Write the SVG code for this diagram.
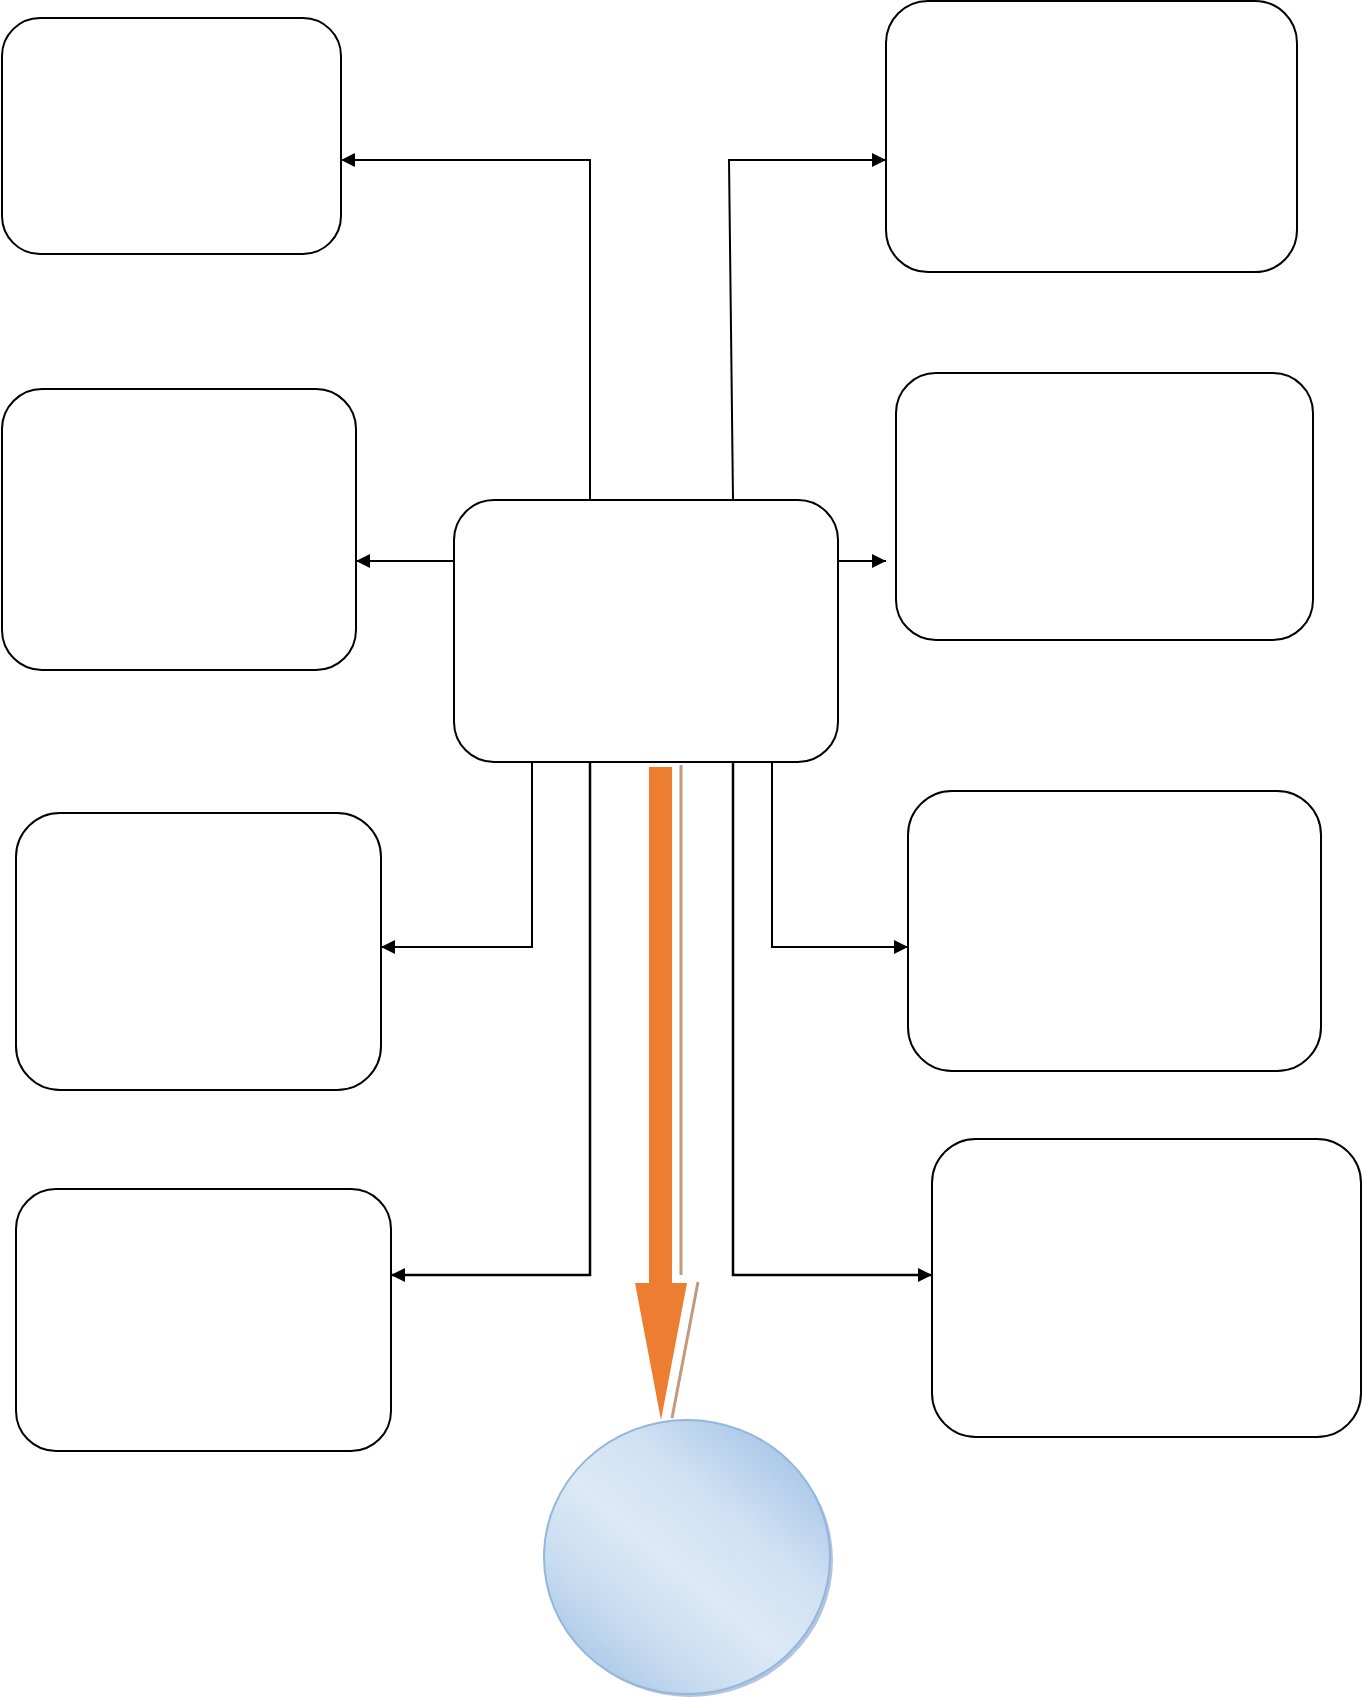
<svg xmlns="http://www.w3.org/2000/svg" width="1362" height="1697" viewBox="0 0 1362 1697">
<style>
.box{fill:#fff;stroke:#000;stroke-width:2}
.conn{fill:none;stroke:#000;stroke-width:2}
.thick{fill:none;stroke:#000;stroke-width:2.5}
.tan{stroke:#c49a7a;stroke-width:3}
</style>
<defs>
<marker id="ah" viewBox="0 0 14 14" refX="14" refY="7" markerWidth="14" markerHeight="14" markerUnits="userSpaceOnUse" orient="auto">
<path d="M0,0 L14,7 L0,14 Z" fill="#000"/>
</marker>
<linearGradient id="cg" x1="0.85" y1="0.1" x2="0.15" y2="0.9">
<stop offset="0" stop-color="#a9c7e8"/>
<stop offset="0.3" stop-color="#d0e1f3"/>
<stop offset="0.55" stop-color="#dce9f6"/>
<stop offset="0.8" stop-color="#c8dcf0"/>
<stop offset="1" stop-color="#adc9e8"/>
</linearGradient>
</defs>
<rect width="1362" height="1697" fill="#fff"/>
<g id="connectors">
<polyline class="conn" points="590,500 590,160 341,160" marker-end="url(#ah)"/>
<polyline class="conn" points="733,500 729,160 886,160" marker-end="url(#ah)"/>
<line class="conn" x1="454" y1="561" x2="356" y2="561" marker-end="url(#ah)"/>
<line class="conn" x1="838" y1="561" x2="886" y2="561" marker-end="url(#ah)"/>
<polyline class="conn" points="532,762 532,947 381,947" marker-end="url(#ah)"/>
<polyline class="thick" points="590,762 590,1275 391,1275" marker-end="url(#ah)"/>
<polyline class="thick" points="733,762 733,1275 932,1275" marker-end="url(#ah)"/>
<polyline class="conn" points="772,762 772,947 908,947" marker-end="url(#ah)"/>
<path d="M649,767 H672 V1283 H687 L661,1420 L635,1283 H649 Z" fill="#ed7d31"/>
<line class="tan" x1="681" y1="765" x2="681" y2="1275"/>
<line class="tan" x1="698" y1="1282" x2="672" y2="1418"/>
</g>
<g id="node-tl"><rect class="box" x="2" y="18" width="339" height="236" rx="38"/></g>
<g id="node-tr"><rect class="box" x="886" y="1" width="411" height="271" rx="42"/></g>
<g id="node-ml"><rect class="box" x="2" y="389" width="354" height="281" rx="40"/></g>
<g id="node-mr"><rect class="box" x="896" y="373" width="417" height="267" rx="40"/></g>
<g id="node-center"><rect class="box" x="454" y="500" width="384" height="262" rx="40"/></g>
<g id="node-ll1"><rect class="box" x="16" y="813" width="365" height="277" rx="44"/></g>
<g id="node-lr1"><rect class="box" x="908" y="791" width="413" height="280" rx="44"/></g>
<g id="node-ll2"><rect class="box" x="16" y="1189" width="375" height="262" rx="40"/></g>
<g id="node-lr2"><rect class="box" x="932" y="1139" width="429" height="298" rx="44"/></g>
<g id="node-circle">
<ellipse cx="690" cy="1560" rx="143" ry="137" fill="#7f9fc4" opacity="0.6"/>
<ellipse cx="687" cy="1557" rx="143" ry="137" fill="url(#cg)" stroke="#93b6dc" stroke-width="2"/>
</g>
</svg>
